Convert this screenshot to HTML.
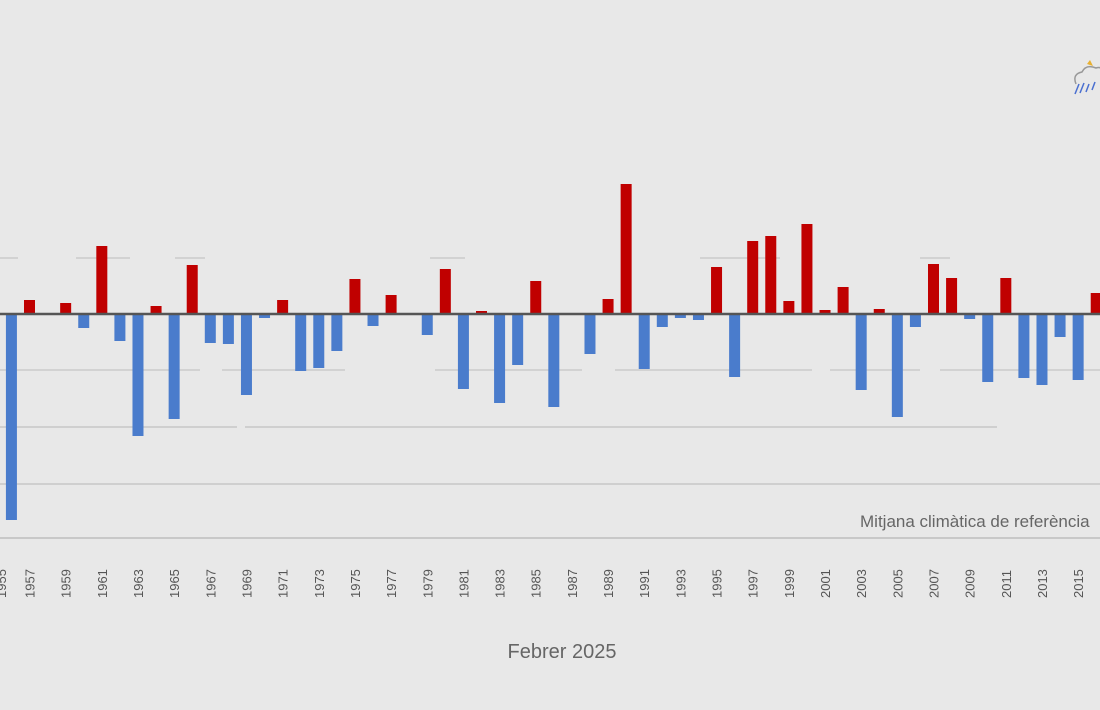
<!DOCTYPE html>
<html><head><meta charset="utf-8"><style>
html,body{margin:0;padding:0;background:#e8e8e8;}
svg{display:block;font-family:"Liberation Sans",sans-serif;}
</style></head><body>
<svg width="1100" height="710" viewBox="0 0 1100 710" xmlns="http://www.w3.org/2000/svg">
<rect width="1100" height="710" fill="#e8e8e8"/>
<g stroke="#d2d2d2" stroke-width="2">
<line x1="0" y1="258" x2="18" y2="258"/><line x1="76" y1="258" x2="130" y2="258"/><line x1="175" y1="258" x2="205" y2="258"/><line x1="430" y1="258" x2="465" y2="258"/><line x1="700" y1="258" x2="780" y2="258"/><line x1="920" y1="258" x2="950" y2="258"/>
<line x1="0" y1="370" x2="200" y2="370"/><line x1="222" y1="370" x2="345" y2="370"/><line x1="435" y1="370" x2="582" y2="370"/><line x1="615" y1="370" x2="812" y2="370"/><line x1="830" y1="370" x2="920" y2="370"/><line x1="940" y1="370" x2="1100" y2="370"/>
</g>
<line x1="0" y1="427" x2="237" y2="427" stroke="#cfcfcf" stroke-width="2"/>
<line x1="245" y1="427" x2="997" y2="427" stroke="#cfcfcf" stroke-width="2"/>
<line x1="0" y1="484" x2="1100" y2="484" stroke="#cfcfcf" stroke-width="2"/>
<line x1="0" y1="538" x2="1100" y2="538" stroke="#c8c8c8" stroke-width="2"/>
<g id="bars"></g>
<line x1="0" y1="314" x2="1100" y2="314" stroke="#555" stroke-width="2.5"/>
<g id="labels" font-size="13" fill="#555"></g>
<text x="562" y="658" font-size="20" fill="#666" text-anchor="middle">Febrer 2025</text>
<text x="860" y="527" font-size="17" fill="#666">Mitjana climàtica de referència</text>
<g transform="translate(1072,60)">
<path d="M4 24 q-4 -10 6 -12 q4 -8 14 -4 q6 -2 8 4" fill="none" stroke="#999" stroke-width="1.5"/>
<path d="M18 0 l3 6 l-6 -2z" fill="#e8b030"/>
<path d="M3 34 l4 -10 M8 33 l4 -10 M14 32 l3 -8 M20 30 l3 -8" stroke="#4a6fd0" stroke-width="1.5"/>
</g>
<script>
var ends={1956:520,1957:300,1959:303,1960:328,1961:246,1962:341,1963:436,1964:306,1965:419,1966:265,1967:343,1968:344,1969:395,1970:318,1971:300,1972:371,1973:368,1974:351,1975:279,1976:326,1977:295,1979:335,1980:269,1981:389,1982:311,1983:403,1984:365,1985:281,1986:407,1988:354,1989:299,1990:184,1991:369,1992:327,1993:318,1994:320,1995:267,1996:377,1997:241,1998:236,1999:301,2000:224,2001:310,2002:287,2003:390,2004:309,2005:417,2006:327,2007:264,2008:278,2009:319,2010:382,2011:278,2012:378,2013:385,2014:337,2015:380,2016:293};
var NS="http://www.w3.org/2000/svg",b=document.getElementById("bars"),l=document.getElementById("labels");
function X(y){return 29.5+(y-1957)*18.08;}
for(var k in ends){var y=+k,e=ends[k],r=document.createElementNS(NS,"rect");
r.setAttribute("x",X(y)-5.5);r.setAttribute("width",11);
if(e<314){r.setAttribute("y",e);r.setAttribute("height",314-e);r.setAttribute("fill","#c00000");}
else{r.setAttribute("y",314);r.setAttribute("height",e-314);r.setAttribute("fill","#4a7ccc");}
b.appendChild(r);}
for(var y=1955;y<=2017;y+=2){var t=document.createElementNS(NS,"text"),x=X(y)+5;
if(y==1955)x=6;
t.setAttribute("x",x);t.setAttribute("y",598);t.setAttribute("transform","rotate(-90 "+x+" 598)");t.textContent=y;l.appendChild(t);}
</script>
</svg>
</body></html>
